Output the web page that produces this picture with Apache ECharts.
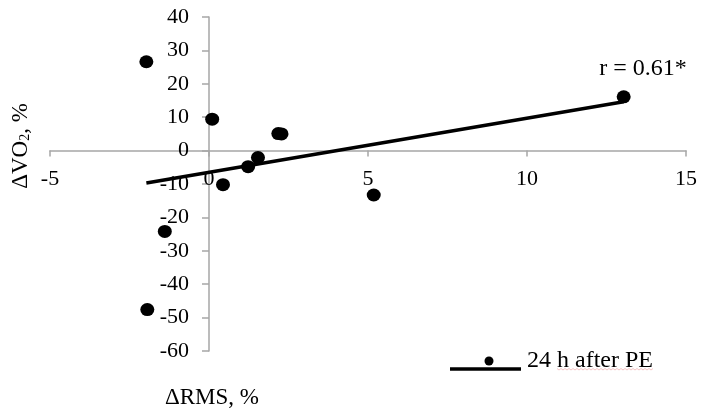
<!DOCTYPE html>
<html>
<head>
<meta charset="utf-8">
<script src="https://cdn.jsdelivr.net/npm/echarts@6/dist/echarts.min.js"></script>
<style>html,body{margin:0;padding:0;background:#fff}#c{width:701px;height:413px}</style>
</head>
<body>
<div id="c"></div>
<script>
// Data
var rmsChange = [-1.97, 0.1, 2.18, 2.28, 1.54, 1.23, 0.44, 5.18, 13.04, -1.39, -1.94];
var vo2Change = [26.6, 9.4, 5.1, 5.0, -2.1, -4.8, -10.2, -13.3, 16.1, -24.2, -47.6];
var trendX = [-1.97, 13.04];
var trendY = [-9.7, 14.6];
var xTicks = [-5, 0, 5, 10, 15];
var yTicks = [-60, -50, -40, -30, -20, -10, 0, 10, 20, 30, 40];
var seriesName = '24 h after PE';
var rText = 'r = 0.61*';

var FONT = '"Liberation Serif", "Times New Roman", serif';
var points = rmsChange.map(function (x, i) { return [x, vo2Change[i]]; });
var trend = trendX.map(function (x, i) { return [x, trendY[i]]; });

var W = 701, H = 413;
var G = { left: 50, right: 15, top: 17, bottom: 62 };
var gw = W - G.left - G.right, gh = H - G.top - G.bottom;
var xMin = xTicks[0], xMax = xTicks[xTicks.length - 1];
var yMin = yTicks[0], yMax = yTicks[yTicks.length - 1];
// offsets that move the axes onto the other axis' zero
var xAxisOffset = -gh * (0 - yMin) / (yMax - yMin);
var yAxisOffset = -gw * (0 - xMin) / (xMax - xMin);

var squiggle = [];
for (var i = 0; i <= 48; i++) { squiggle.push([557 + i * 2, 369 + (i % 2 ? 1 : -0.5)]); }

var chart = echarts.init(document.getElementById('c'), null, { renderer: 'canvas' });
chart.setOption({
  animation: false,
  backgroundColor: '#ffffff',
  grid: { left: G.left, right: G.right, top: G.top, bottom: G.bottom, containLabel: false },
  xAxis: {
    type: 'value', position: 'bottom', offset: xAxisOffset,
    min: xMin, max: xMax, interval: 5,
    axisLine: { show: true, onZero: false, lineStyle: { color: '#a6a6a6', width: 1.5 } },
    axisTick: { show: true, length: 6, lineStyle: { color: '#a6a6a6', width: 1.5 } },
    axisLabel: { color: '#000', fontFamily: FONT, fontSize: 22, margin: 18, showMinLabel: true, showMaxLabel: true },
    splitLine: { show: false }
  },
  yAxis: {
    type: 'value', position: 'left', offset: yAxisOffset,
    min: yMin, max: yMax, interval: 10,
    axisLine: { show: true, onZero: false, lineStyle: { color: '#a6a6a6', width: 1.5 } },
    axisTick: { show: true, length: 7, lineStyle: { color: '#a6a6a6', width: 1.5 } },
    axisLabel: { color: '#000', fontFamily: FONT, fontSize: 22, margin: 20, showMinLabel: true, showMaxLabel: true },
    splitLine: { show: false }
  },
  series: [
    {
      name: seriesName,
      type: 'scatter',
      data: points,
      symbol: 'circle',
      symbolSize: [14, 13],
      itemStyle: { color: '#000', opacity: 1 },
      z: 3
    },
    {
      name: 'trend',
      type: 'line',
      data: trend,
      showSymbol: false,
      symbol: 'none',
      lineStyle: { color: '#000', width: 3.5 },
      z: 2
    }
  ],
  graphic: [
    { type: 'text', x: 643, y: 69, style: { text: rText, font: '24px ' + FONT, fill: '#000', align: 'center', verticalAlign: 'middle' } },
    { type: 'text', x: 212, y: 398, style: { text: 'ΔRMS, %', font: '23px ' + FONT, fill: '#000', align: 'center', verticalAlign: 'middle' } },
    { type: 'text', x: 21, y: 146, rotation: Math.PI / 2,
      style: { text: 'ΔVO{sub|2}, %', font: '23px ' + FONT, fill: '#000', align: 'center', verticalAlign: 'middle',
        rich: { sub: { fontFamily: FONT, fontSize: 14, verticalAlign: 'bottom', padding: [9, 0, 0, 0] } } } },
    { type: 'line', shape: { x1: 450, y1: 369, x2: 521, y2: 369 }, style: { stroke: '#000', lineWidth: 3.5 } },
    { type: 'circle', shape: { cx: 489, cy: 361, r: 4.5 }, style: { fill: '#000' } },
    { type: 'text', x: 527, y: 361, style: { text: seriesName, font: '24px ' + FONT, fill: '#000', align: 'left', verticalAlign: 'middle' } },
    { type: 'polyline', shape: { points: squiggle }, style: { stroke: '#f2b6b6', lineWidth: 0.8, fill: null } }
  ]
});
</script>
</body>
</html>
